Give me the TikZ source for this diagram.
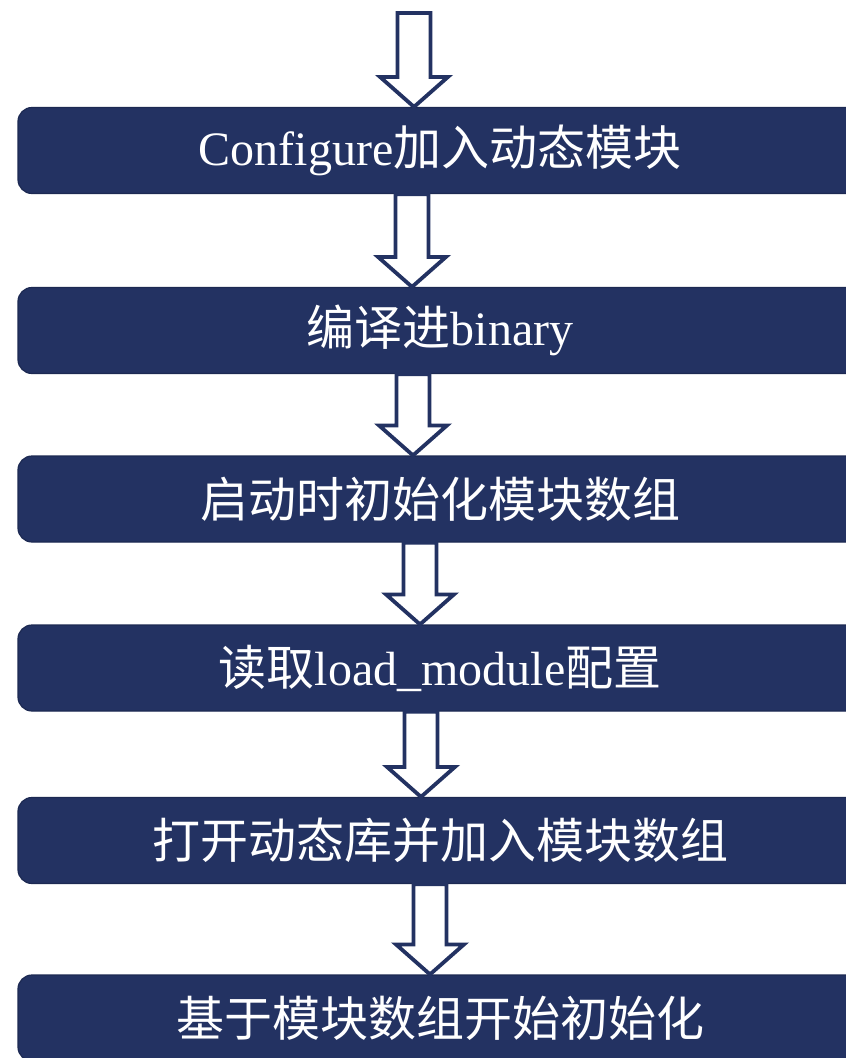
\documentclass[tikz,border=0pt]{standalone}
\usepackage{fontspec}
\setmainfont{Liberation Serif}
\newfontfamily\cjk{Noto Sans CJK SC}
\usetikzlibrary{calc}
\definecolor{navy}{HTML}{233262}
\definecolor{navyedge}{HTML}{1C2952}
\tikzset{
  stepbox/.style={draw=navyedge, line width=1.2pt, fill=navy, rounded corners=14pt,
    minimum width=844pt, minimum height=86pt, inner sep=0pt, text=white,
    font=\fontsize{48}{56}\selectfont},
  arr/.style={draw=navy, line width=3.8pt, fill=white, line join=miter}
}
\newcommand\blockarrow[3]{%
  \draw[arr] let \p1=(#2), \p2=(#3) in
    (#1-16.5,\y1) -- (#1+16.5,\y1) -- (#1+16.5,\y2+30) -- (#1+34,\y2+30) --
    (#1,\y2) -- (#1-34,\y2+30) -- (#1-16.5,\y2+30) -- cycle;}
\begin{document}
\begin{tikzpicture}[x=1pt,y=1pt]
\useasboundingbox (0,-1058) rectangle (846,0);
\fill[white] (0,-1058) rectangle (846,0);
\node[stepbox] (b1) at (440,-150.5) {Configure{\cjk 加入动态模块}};
\node[stepbox] (b2) at (440,-330.5) {{\cjk 编译进}binary};
\node[stepbox] (b3) at (440,-499) {{\cjk 启动时初始化模块数组}};
\node[stepbox] (b4) at (440,-668) {{\cjk 读取}load\_module{\cjk 配置}};
\node[stepbox] (b5) at (440,-840.5) {{\cjk 打开动态库并加入模块数组}};
\node[stepbox] (b6) at (440,-1018) {{\cjk 基于模块数组开始初始化}};
\coordinate (start) at (414,-13);
\blockarrow{414}{start}{b1.north}
\blockarrow{412}{b1.south}{b2.north}
\blockarrow{413}{b2.south}{b3.north}
\blockarrow{420}{b3.south}{b4.north}
\blockarrow{421}{b4.south}{b5.north}
\blockarrow{430}{b5.south}{b6.north}
\end{tikzpicture}
\end{document}
